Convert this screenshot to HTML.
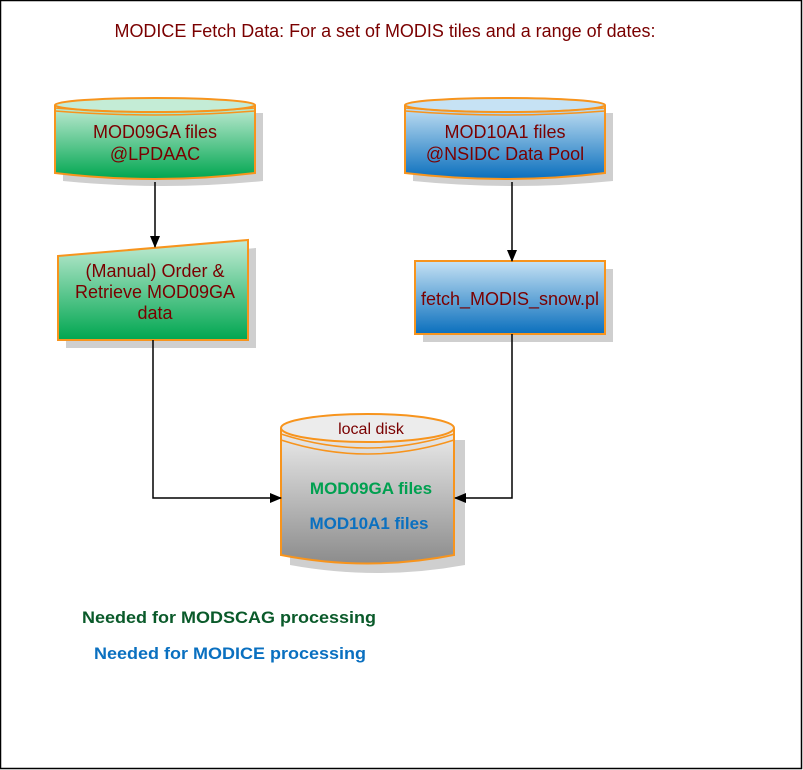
<!DOCTYPE html>
<html><head><style>html,body{margin:0;padding:0;background:#fff}svg{display:block}</style></head><body>
<svg width="803" height="770" viewBox="0 0 803 770" xmlns="http://www.w3.org/2000/svg" font-family="Liberation Sans, sans-serif">
<defs>
<linearGradient id="g" x1="0" y1="0" x2="0" y2="1"><stop offset="0" stop-color="#c4ecd6"/><stop offset="1" stop-color="#00a650"/></linearGradient>
<linearGradient id="b" x1="0" y1="0" x2="0" y2="1"><stop offset="0" stop-color="#c6e2f4"/><stop offset="1" stop-color="#0a6fbd"/></linearGradient>
<linearGradient id="k" x1="0" y1="0" x2="0" y2="1"><stop offset="0" stop-color="#ededed"/><stop offset="1" stop-color="#8c8c8c"/></linearGradient>
<marker id="a" markerWidth="12" markerHeight="12" refX="11" refY="6" orient="auto" markerUnits="userSpaceOnUse"><path d="M0,1 L12,6 L0,11 Z" fill="#000"/></marker>
</defs>
<rect x="0.5" y="0.5" width="801" height="768" fill="#fff" stroke="#000" stroke-width="1.5"/>
<text x="385" y="37" font-size="18" fill="#7a0000" text-anchor="middle" textLength="541" lengthAdjust="spacingAndGlyphs">MODICE Fetch Data: For a set of MODIS tiles and a range of dates:</text>

<path d="M63,113 h200 v68 q-100,10 -200,0 Z" fill="#cfcfcf"/>
<path d="M413,113 h200 v68 q-100,10 -200,0 Z" fill="#cfcfcf"/>
<path d="M66,264 L256,248 V348 H66 Z" fill="#cfcfcf"/>
<rect x="423" y="269" width="190" height="73" fill="#cfcfcf"/>
<path d="M290,440 h175 v125 q-87.5,16 -175,0 Z" fill="#cfcfcf"/>

<path d="M55,105 V173 Q155,185 255,173 V105" fill="url(#g)" stroke="#f7941d" stroke-width="2"/>
<ellipse cx="155" cy="105" rx="100" ry="7" fill="#c4ecd6" stroke="#f7941d" stroke-width="2"/>
<path d="M55,108 Q155,116 255,108 M55,111 Q155,119 255,111" fill="none" stroke="#f7941d" stroke-width="1.5"/>
<text x="155" y="138" font-size="18" fill="#7a0000" text-anchor="middle">MOD09GA files</text>
<text x="155" y="160" font-size="18" fill="#7a0000" text-anchor="middle">@LPDAAC</text>

<path d="M405,105 V173 Q505,185 605,173 V105" fill="url(#b)" stroke="#f7941d" stroke-width="2"/>
<ellipse cx="505" cy="105" rx="100" ry="7" fill="#c6e2f4" stroke="#f7941d" stroke-width="2"/>
<path d="M405,108 Q505,116 605,108 M405,111 Q505,119 605,111" fill="none" stroke="#f7941d" stroke-width="1.5"/>
<text x="505" y="138" font-size="18" fill="#7a0000" text-anchor="middle">MOD10A1 files</text>
<text x="505" y="160" font-size="18" fill="#7a0000" text-anchor="middle">@NSIDC Data Pool</text>

<path d="M58,256 L248,240 V340 H58 Z" fill="url(#g)" stroke="#f7941d" stroke-width="2"/>
<text x="155" y="277" font-size="18" fill="#7a0000" text-anchor="middle">(Manual) Order &amp;</text>
<text x="155" y="298" font-size="18" fill="#7a0000" text-anchor="middle">Retrieve MOD09GA</text>
<text x="155" y="319" font-size="18" fill="#7a0000" text-anchor="middle">data</text>

<rect x="415" y="261" width="190" height="73" fill="url(#b)" stroke="#f7941d" stroke-width="2"/>
<text x="510" y="305" font-size="18" fill="#7a0000" text-anchor="middle">fetch_MODIS_snow.pl</text>

<path d="M281,428 V555 Q367.5,572 454,555 V428" fill="url(#k)" stroke="#f7941d" stroke-width="2"/>
<ellipse cx="367.5" cy="428" rx="86.5" ry="14" fill="#ececec" stroke="#f7941d" stroke-width="2"/>
<path d="M281,434 Q367.5,462 454,434 M281,440 Q367.5,468 454,440" fill="none" stroke="#f7941d" stroke-width="1.5"/>
<text x="371" y="434" font-size="16" fill="#7a0000" text-anchor="middle">local disk</text>
<text x="371" y="494" font-size="17" font-weight="bold" fill="#00a050" text-anchor="middle">MOD09GA files</text>
<text x="369" y="529" font-size="17" font-weight="bold" fill="#0a70c0" text-anchor="middle">MOD10A1 files</text>

<g stroke="#000" stroke-width="1.5" fill="none">
<path d="M155,182 V247" marker-end="url(#a)"/>
<path d="M512,182 V261" marker-end="url(#a)"/>
<path d="M153,340 V498 H281" marker-end="url(#a)"/>
<path d="M512,334 V498 H455" marker-end="url(#a)"/>
</g>

<text x="82" y="623" font-size="17" font-weight="bold" fill="#0a5a2a" textLength="294" lengthAdjust="spacingAndGlyphs">Needed for MODSCAG processing</text>
<text x="94" y="659" font-size="17" font-weight="bold" fill="#0a70c0" textLength="272" lengthAdjust="spacingAndGlyphs">Needed for MODICE processing</text>
</svg>
</body></html>
